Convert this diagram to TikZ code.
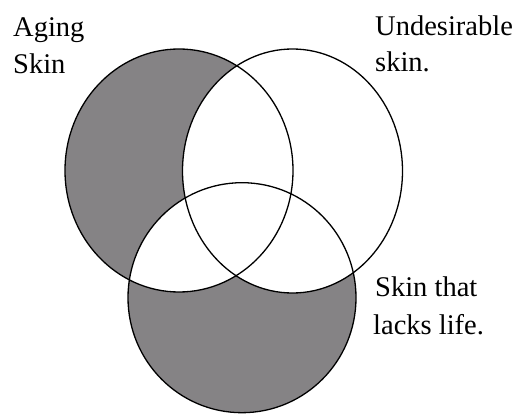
\documentclass[tikz,border=0pt]{standalone}
\usepackage{fontspec}
\setmainfont{Liberation Serif}
\newfontfamily\labelfont{Liberation Serif}
\definecolor{venngray}{RGB}{133,131,133}
\begin{document}
\begin{tikzpicture}[x=1pt,y=-1pt,
  outline/.style={draw=black,line width=1.3pt},
  label/.style={anchor=base west,inner sep=0pt,font=\labelfont\fontsize{28.5}{37}\selectfont}]
\useasboundingbox (0,0) rectangle (523,414);
% regions
\fill[venngray] (179,170.5) ellipse [x radius=114pt, y radius=121.5pt];
\fill[venngray] (242,297.7) ellipse [x radius=114pt, y radius=115pt];
\fill[white] (292.5,171) ellipse [x radius=110pt, y radius=122pt];
\begin{scope}
  \clip (179,170.5) ellipse [x radius=114pt, y radius=121.5pt];
  \fill[white] (242,297.7) ellipse [x radius=114pt, y radius=115pt];
\end{scope}
% outlines
\draw[outline] (179,170.5) ellipse [x radius=114pt, y radius=121.5pt];
\draw[outline] (292.5,171) ellipse [x radius=110pt, y radius=122pt];
\draw[outline] (242,297.7) ellipse [x radius=114pt, y radius=115pt];
% labels
\node[label] (aging1) at (13,37) {Aging};
\node[label] (aging2) at (13,74) {Skin};
\node[label] (undes1) at (375,36) {Undesirable};
\node[label] (undes2) at (375,72) {skin.};
\node[label] (lacks1) at (375,297) {Skin that};
\node[label] (lacks2) at (373,335) {lacks life.};
\end{tikzpicture}
\end{document}
